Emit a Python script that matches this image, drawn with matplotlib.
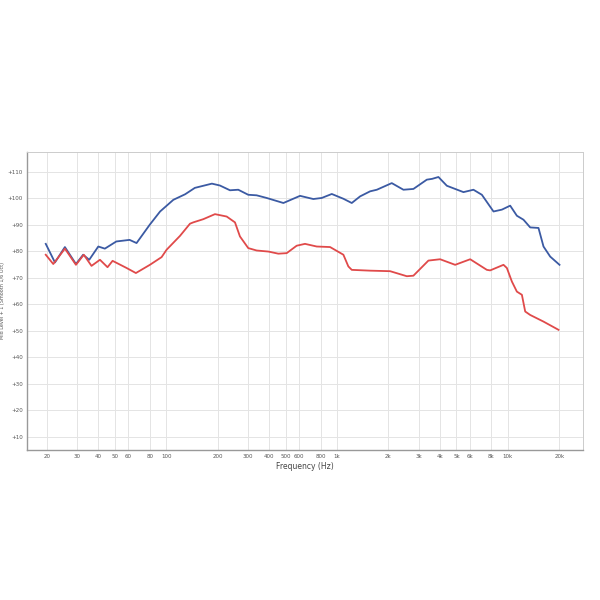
import matplotlib.pyplot as plt
import numpy as np

# frequency response
blue_freq = [19.7, 22.3, 25.5, 29.6, 32.6, 35.4, 40, 43.7, 51, 61, 67, 80, 92, 110,
             129, 147, 185, 206, 236, 264, 302, 338, 387, 485, 607, 726, 813, 931,
             1089, 1219, 1364, 1561, 1709, 2090, 2446, 2798, 3353, 3600, 3921, 4392,
             5494, 6286, 7041, 8236, 9221, 10313, 11288, 12340, 13508, 15104, 16162,
             17689, 20055]
blue_db = [82.8, 75.8, 81.6, 75.2, 78.7, 76.8, 81.8, 81.0, 83.7, 84.3, 83.1, 90.0, 95.0, 99.4,
           101.5, 103.9, 105.5, 104.8, 103.0, 103.2, 101.3, 101.1, 100.1, 98.2, 100.9, 99.7, 100.1, 101.6,
           99.8, 98.2, 100.7, 102.6, 103.2, 105.7, 103.2, 103.5, 107.0, 107.3, 108.0, 104.7,
           102.3, 103.2, 101.3, 95.0, 95.7, 97.2, 93.4, 91.9, 89.0, 88.8, 81.8,
           78.0, 74.9]

red_freq = [19.7, 21.8, 25.5, 29.6, 32.9, 36.5, 40.9, 45.3, 48.5, 58.6, 66.4, 80.2, 93.9, 100.5,
            120.3, 137.7, 143.9, 164.7, 192.8, 225.8, 252.5, 270, 302, 338, 396, 453, 507,
            580, 649, 760, 910, 1089, 1164, 1219, 1561, 2044, 2561, 2798, 3426, 4011, 4912,
            6015, 7532, 7875, 9424, 9865, 10553, 11288, 12078, 12628, 13508, 16162, 19784]
red_db = [78.7, 75.2, 81.0, 74.9, 78.7, 74.5, 76.8, 74.0, 76.4, 73.7, 71.8, 74.9, 77.8, 80.6,
          85.8, 90.4, 90.9, 92.1, 94.0, 93.1, 90.9, 85.6, 81.2, 80.3, 79.9, 79.1, 79.3,
          82.1, 82.8, 81.8, 81.6, 78.7, 74.3, 73.0, 72.7, 72.5, 70.6, 70.8, 76.5, 77.0, 74.9,
          77.0, 73.0, 72.8, 74.9, 73.7, 68.6, 64.8, 63.6, 57.3, 56.0, 53.5, 50.4]

xticks = [20, 30, 40, 50, 60, 80, 100, 200, 300, 400, 500, 600, 800,
          1000, 2000, 3000, 4000, 5000, 6000, 8000, 10000, 20000]
xtick_labels = ['20', '30', '40', '50', '60', '80', '100', '200', '300', '400', '500', '600', '800',
                '1k', '2k', '3k', '4k', '5k', '6k', '8k', '10k', '20k']
yticks = [10, 20, 30, 40, 50, 60, 70, 80, 90, 100, 110]

fig = plt.figure(figsize=(6, 6), dpi=100)
ax = fig.add_axes([0.045, 0.25, 0.927, 0.497])

ax.plot(blue_freq, blue_db, color='#3b5aa3', linewidth=1.3, solid_joinstyle='round')
ax.plot(red_freq, red_db, color='#e04a4a', linewidth=1.3, solid_joinstyle='round')

ax.set_xscale('log')
ax.set_xlim(15.3, 27600)
ax.set_ylim(5.1, 117.5)
ax.set_xticks(xticks)
ax.set_xticklabels(xtick_labels)
ax.minorticks_off()
ax.set_yticks(yticks)
ax.set_yticklabels(['+%d' % v for v in yticks])
ax.tick_params(length=0, labelsize=4, colors='#555555', pad=3)

ax.grid(True, color='#e4e4e4', linewidth=0.7)
ax.set_axisbelow(True)

for side in ['top', 'right']:
    ax.spines[side].set_color('#cccccc')
    ax.spines[side].set_linewidth(0.7)
for side in ['left', 'bottom']:
    ax.spines[side].set_color('#999999')
    ax.spines[side].set_linewidth(1.0)

ax.set_xlabel('Frequency (Hz)', fontsize=5.5, color='#444444', labelpad=2)
ax.set_ylabel('Mid Level + 1 (Smooth 1/6 Oct)', fontsize=3.5, color='#555555')
ax.yaxis.set_label_coords(-0.04, 0.5)

fig.savefig('out.png', dpi=100)
